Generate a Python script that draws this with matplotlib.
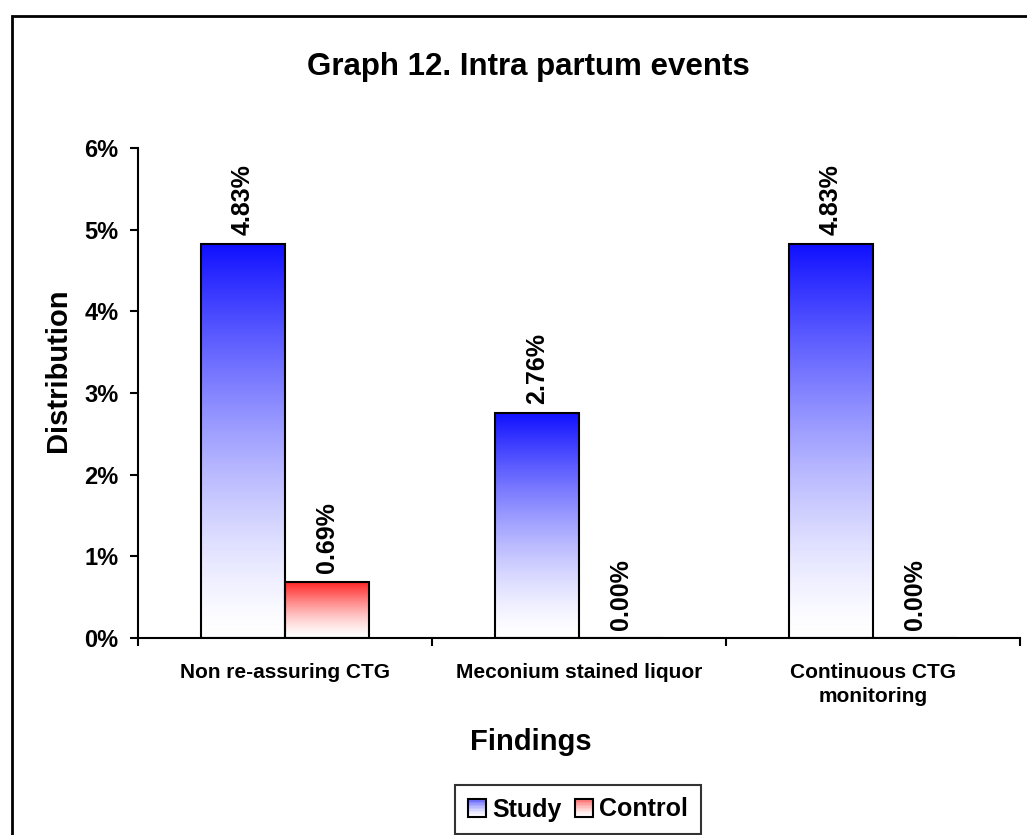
import numpy as np
import matplotlib
matplotlib.use("Agg")
import matplotlib.pyplot as plt
from matplotlib.colors import LinearSegmentedColormap
from matplotlib.patches import Rectangle
from matplotlib.legend_handler import HandlerBase

plt.rcParams['font.family'] = ['Liberation Sans', 'DejaVu Sans']
plt.rcParams['font.weight'] = 'bold'

# Dados do gráfico
categorias = ['Non re-assuring CTG', 'Meconium stained liquor', 'Continuous CTG\nmonitoring']
series = ['Study', 'Control']
study = [4.83, 2.76, 4.83]
control = [0.69, 0.00, 0.00]
yticks = [0, 1, 2, 3, 4, 5, 6]

cmap_azul = LinearSegmentedColormap.from_list('azul', ['#ffffff', '#1010ff'])
cmap_verm = LinearSegmentedColormap.from_list('verm', ['#ffffff', '#ff2020'])


class GradienteHandler(HandlerBase):
    def __init__(self, cmap):
        super().__init__()
        self.cmap = cmap

    def create_artists(self, legend, orig_handle, xdescent, ydescent, width, height, fontsize, trans):
        lado = height * 1.05
        x0 = -xdescent + (width - lado) / 2
        y0 = -ydescent + (height - lado) / 2
        artistas = []
        n = 12
        for i in range(n):
            cor = self.cmap(((i + 0.5) / n) ** 1.4 * 0.7)
            r = Rectangle((x0, y0 + lado * i / n), lado, lado / n, facecolor=cor,
                          edgecolor='none', transform=trans)
            artistas.append(r)
        artistas.append(Rectangle((x0, y0), lado, lado, facecolor='none',
                                  edgecolor='black', lw=1.5, transform=trans))
        return artistas


fig = plt.figure(figsize=(10.27, 8.35), dpi=100)
ax = fig.add_axes([138 / 1027, 1 - 638 / 835, 882 / 1027, 490 / 835])

x = np.arange(len(categorias))
largura = 84 / 294
gradiente = (np.linspace(0, 1, 256) ** 1.4).reshape(-1, 1)

barras_s = ax.bar(x - largura / 2, study, largura, facecolor='none', edgecolor='black', lw=1.5, zorder=3)
barras_c = ax.bar(x + largura / 2, control, largura, facecolor='none', edgecolor='black', lw=1.5, zorder=3)

for barras, valores, cmap in [(barras_s, study, cmap_azul), (barras_c, control, cmap_verm)]:
    for b, v in zip(barras, valores):
        if v > 0:
            x0 = b.get_x()
            im = ax.imshow(gradiente, cmap=cmap, origin='lower', aspect='auto', vmin=0, vmax=1,
                           extent=(x0, x0 + b.get_width(), 0, v), zorder=2)
            im.set_clip_path(b)
        ax.annotate(f'{v:.2f}%', (b.get_x() + b.get_width() / 2, v), xytext=(0, 6),
                    textcoords='offset points', rotation=90, ha='center', va='bottom',
                    fontsize=18, fontweight='bold')

ax.set_xlim(-0.5, 2.5)
ax.set_ylim(0, 6)
ax.set_yticks(yticks)
ax.set_yticklabels([f'{t}%' for t in yticks], fontsize=17, fontweight='bold')
ax.set_xticks(x)
ax.set_xticklabels(categorias, fontsize=15, fontweight='bold', linespacing=1.35)
ax.set_xticks([-0.5, 0.5, 1.5, 2.5], minor=True)
ax.tick_params(axis='x', which='major', length=0, pad=18)
ax.tick_params(axis='x', which='minor', length=6, width=1.5, direction='out')
ax.tick_params(axis='y', length=6, width=1.5, direction='out', pad=8)
for s in ['top', 'right']:
    ax.spines[s].set_visible(False)
for s in ['left', 'bottom']:
    ax.spines[s].set_linewidth(1.5)

fig.text(0.514, 1 - 67 / 835, 'Graph 12. Intra partum events', ha='center', va='center',
         fontsize=22.5, fontweight='bold')
fig.text(0.517, 1 - 742 / 835, 'Findings', ha='center', va='center', fontsize=21, fontweight='bold')
fig.text(58 / 1027, 1 - 370 / 835, 'Distribution', ha='center', va='center', rotation=90,
         fontsize=21, fontweight='bold')

h1 = Rectangle((0, 0), 1, 1)
h2 = Rectangle((0, 0), 1, 1)
leg = fig.legend([h1, h2], series, loc='upper left', bbox_to_anchor=(455 / 1027, 1 - 785 / 835),
                 ncol=2, prop={'weight': 'bold', 'size': 18},
                 handler_map={h1: GradienteHandler(cmap_azul), h2: GradienteHandler(cmap_verm)},
                 handlelength=0.75, handletextpad=0.25, columnspacing=0.5,
                 fancybox=False, borderpad=0.5, borderaxespad=0)
leg.get_frame().set_edgecolor('black')
leg.get_frame().set_linewidth(1.5)

fig.add_artist(Rectangle((12 / 1027, -0.05), 1.1, 1 - 16 / 835 + 0.05, transform=fig.transFigure,
                         fill=False, edgecolor='black', lw=2))

fig.savefig('out.png', dpi=100)
